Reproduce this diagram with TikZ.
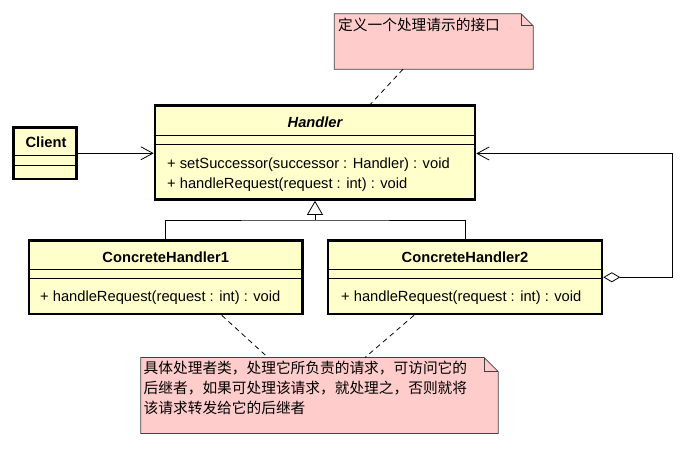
\documentclass[tikz,border=0pt]{standalone}
\usepackage{fontspec}
\setmainfont{Liberation Sans}
\newfontfamily\cjk{Noto Sans CJK SC}
\usetikzlibrary{arrows.meta, positioning, calc}
\definecolor{cyellow}{HTML}{FFFFCC}
\definecolor{cpink}{HTML}{FFCCCC}
\definecolor{cedge}{HTML}{404040}
\tikzset{
  every picture/.style={x=1pt, y=-1pt, font=\fontsize{14.7}{18}\selectfont},
  cls/.style={draw, fill=cyellow, line width=2.6pt, inner sep=0pt},
  clsname/.style={font=\fontsize{14.7}{18}\selectfont\bfseries, inner sep=0pt},
  member/.style={anchor=west, inner sep=0pt},
  sep/.style={line width=0.9pt},
  notebox/.style={draw=cedge, fill=cpink, line width=0.8pt},
  notetext/.style={font=\cjk\fontsize{14.7}{20}\selectfont, align=left, anchor=north west, inner sep=0pt},
  link/.style={line width=0.8pt},
  anchorline/.style={line width=0.8pt, dash pattern=on 5pt off 4pt},
  assoc/.style={link, -{Straight Barb[length=12pt, width=13pt]}},
  inherit/.style={link, -{Triangle[open, length=14pt, width=16pt, fill=white]}},
}
\begin{document}
\begin{tikzpicture}
  \useasboundingbox (0,0) rectangle (690,469);
  % Client
  \node[cls, minimum width=63pt, minimum height=51.5pt] (client) at (45,153.25) {};
  \node[clsname] (clientname) at (46,142.5) {Client};
  \draw[sep] ([yshift=-29.2pt]client.north west) -- ([yshift=-29.2pt]client.north east);
  \draw[sep] ([yshift=-39.2pt]client.north west) -- ([yshift=-39.2pt]client.north east);
  % Handler
  \node[cls, minimum width=320pt, minimum height=94pt] (handler) at (315,152.5) {};
  \node[clsname, font=\fontsize{14.7}{18}\selectfont\bfseries\itshape] (handlername) at (315,122) {Handler};
  \draw[sep] ([yshift=-31.2pt]handler.north west) -- ([yshift=-31.2pt]handler.north east);
  \draw[sep] ([yshift=-40.5pt]handler.north west) -- ([yshift=-40.5pt]handler.north east);
  \node[member] (setsucc) at (167,165) {+ setSuccessor(successor : Handler) : void};
  \node[member] (handlereq) at (167,185) {+ handleRequest(request : int) : void};
  % ConcreteHandler1
  \node[cls, minimum width=273.5pt, minimum height=73.5pt] (ch1) at (165.75,277.25) {};
  \node[clsname] (ch1name) at (165.75,257) {ConcreteHandler1};
  \draw[sep] ([yshift=-30.5pt]ch1.north west) -- ([yshift=-30.5pt]ch1.north east);
  \draw[sep] ([yshift=-39.5pt]ch1.north west) -- ([yshift=-39.5pt]ch1.north east);
  \node[member] (ch1req) at (40,298) {+ handleRequest(request : int) : void};
  % ConcreteHandler2
  \node[cls, minimum width=274pt, minimum height=73.5pt] (ch2) at (465,277.25) {};
  \node[clsname] (ch2name) at (465,257) {ConcreteHandler2};
  \draw[sep] ([yshift=-30.5pt]ch2.north west) -- ([yshift=-30.5pt]ch2.north east);
  \draw[sep] ([yshift=-39.5pt]ch2.north west) -- ([yshift=-39.5pt]ch2.north east);
  \node[member] (ch2req) at (341,298) {+ handleRequest(request : int) : void};
  % notes
  \node[minimum width=198.5pt, minimum height=55pt, inner sep=0pt] (topnote) at (433.75,41.5) {};
  \filldraw[notebox] (topnote.north west) -- ([xshift=-12pt]topnote.north east)
    -- ([yshift=-12pt]topnote.north east) -- (topnote.south east) -- (topnote.south west) -- cycle;
  \draw[notebox, fill=none] ([xshift=-12pt]topnote.north east) -- ++(0,12) -- ++(12,0);
  \node[notetext] (topnotetext) at (338,18) {定义一个处理请示的接口};
  \node[minimum width=357pt, minimum height=75.5pt, inner sep=0pt] (botnote) at (319.5,395.5) {};
  \filldraw[notebox] (botnote.north west) -- ([xshift=-14pt]botnote.north east)
    -- ([yshift=-14pt]botnote.north east) -- (botnote.south east) -- (botnote.south west) -- cycle;
  \draw[notebox, fill=none] ([xshift=-14pt]botnote.north east) -- ++(0,14) -- ++(14,0);
  \node[notetext] (botnotetext) at (143.5,361) {具体处理者类，处理它所负责的请求，可访问它的\\后继者，如果可处理该请求，就处理之，否则就将\\该请求转发给它的后继者};
  % connectors
  \draw[assoc] (client.east) -- (client.east -| handler.west);
  \coordinate (join) at (315,220);
  \coordinate (bend) at (672,0);
  \draw[link] (ch1.north) |- (join) -| (ch2.north);
  \draw[inherit] (join) -- (handler.south);
  \draw[link, {Diamond[open, length=17pt, width=10pt]}-{Straight Barb[length=12pt, width=13pt]}]
    (ch2.east) -- (ch2.east -| bend) |- ([yshift=-1pt]handler.east);
  \draw[anchorline] ([xshift=-30.75pt]topnote.south) -- ([xshift=55.5pt]handler.north);
  \draw[anchorline] ([xshift=56pt]ch1.south) -- ([xshift=-51.5pt]botnote.north);
  \draw[anchorline] ([xshift=-51pt]ch2.south) -- ([xshift=45.5pt]botnote.north);
\end{tikzpicture}
\end{document}
